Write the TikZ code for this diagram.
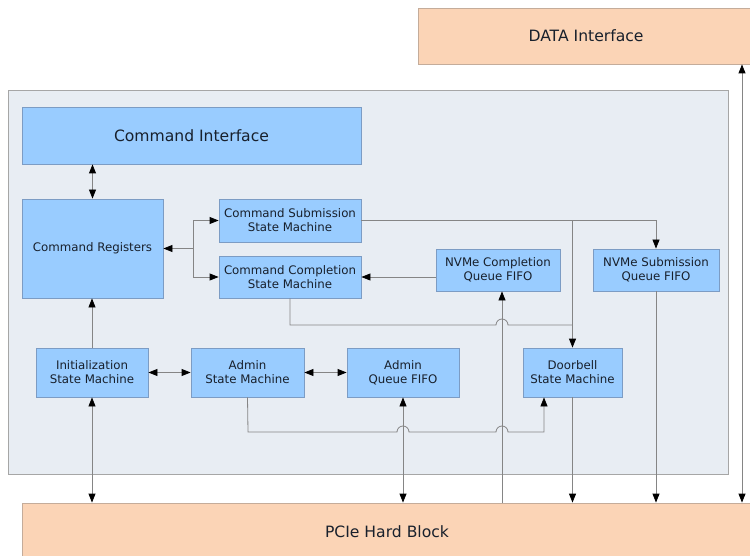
\documentclass[tikz,border=0pt]{standalone}
\usepackage{fontspec}
\setmainfont{DejaVu Sans}
\usetikzlibrary{arrows.meta}
\definecolor{bluefill}{HTML}{99CCFF}
\definecolor{blueline}{HTML}{7C9CC4}
\definecolor{contfill}{HTML}{E8EDF3}
\definecolor{contline}{HTML}{A6A6A6}
\definecolor{peachfill}{HTML}{FBD4B6}
\definecolor{peachline}{HTML}{C4AC9A}
\definecolor{wire}{HTML}{858585}
\definecolor{txt}{HTML}{18202C}
\tikzset{
  blk/.style={draw=blueline, fill=bluefill, line width=0.8pt, inner sep=0pt,
    align=center, text=txt, font=\fontsize{11.8}{14}\selectfont},
  bigblk/.style={blk, font=\fontsize{15.6}{18}\selectfont},
  peach/.style={draw=peachline, fill=peachfill, line width=0.8pt, inner sep=0pt,
    text=txt, font=\fontsize{15.6}{18}\selectfont},
  cont/.style={draw=contline, fill=contfill, line width=0.8pt, inner sep=0pt},
  wirel/.style={draw=wire, line width=0.8pt},
  tip/.tip={Triangle[length=9pt,width=7pt,color=black]},
  arr/.style={wirel, -tip},
  biarr/.style={wirel, tip-tip},
}
\begin{document}
\begin{tikzpicture}[x=1pt,y=-1pt]
\useasboundingbox (0,0) rectangle (750,556);
\clip (0,0) rectangle (750,556);
\fill[white] (0,0) rectangle (750,556);

% containers and outer blocks
\node[cont, minimum width=720pt, minimum height=384pt] (cont) at (368,282) {};
\node[peach, minimum width=336pt, minimum height=56pt] (data) at (586,36) {DATA Interface};
\node[peach, minimum width=730pt, minimum height=58pt] (pcie) at (387,532) {PCIe Hard Block};

% blue blocks
\node[bigblk, minimum width=339pt, minimum height=57pt] (cmdif) at (191.5,135.5) {Command Interface};
\node[blk, minimum width=141pt, minimum height=99pt] (cmdreg) at (92.5,248.5) {Command Registers};
\node[blk, minimum width=142pt, minimum height=43pt] (cssm) at (290,220.5) {Command Submission\\State Machine};
\node[blk, minimum width=142pt, minimum height=42pt] (ccsm) at (290,277) {Command Completion\\State Machine};
\node[blk, minimum width=124pt, minimum height=42pt] (nvcq) at (498,270) {NVMe Completion\\Queue FIFO};
\node[blk, minimum width=126pt, minimum height=42pt] (nvsq) at (656,270) {NVMe Submission\\Queue FIFO};
\node[blk, minimum width=112pt, minimum height=49pt] (init) at (92,372.5) {Initialization\\State Machine};
\node[blk, minimum width=113pt, minimum height=49pt] (adminsm) at (247.5,372.5) {Admin\\State Machine};
\node[blk, minimum width=112pt, minimum height=49pt] (adminq) at (403,372.5) {Admin\\Queue FIFO};
\node[blk, minimum width=99pt, minimum height=49pt] (door) at (572.5,372.5) {Doorbell\\State Machine};

% connectors
\draw[biarr] (cmdreg.north) -- (cmdreg.north |- cmdif.south);
\coordinate (j1) at (193,248.5);
\draw[arr] (j1) -- (cmdreg.east);
\draw[arr] (j1) |- (cssm.west);
\draw[arr] (j1) |- (ccsm.west);
\draw[arr] (cssm.east) -| (nvsq.north);
\draw[arr] (cssm.east -| door.north) -- (door.north);
\draw[arr] (ccsm.east -| nvcq.west) -- (ccsm.east);
\coordinate (c1) at (290,325);
\draw[wirel] (ccsm.south) -- (c1) -- (496,325)
  arc[start angle=180, end angle=0, radius=6pt] -- (c1 -| door.north);
\draw[arr] ([xshift=4pt]nvcq.south |- pcie.north) -- ([xshift=4pt]nvcq.south);
\draw[biarr] (init.east) -- (adminsm.west);
\draw[biarr] (adminsm.east) -- (adminq.west);
\draw[arr] (init.north) -- (init.north |- cmdreg.south);
\draw[biarr] (init.south) -- (init.south |- pcie.north);
\coordinate (c2) at (248,432);
\coordinate (c3) at (544,432);
\draw[arr] (adminsm.south) -- (c2) -- (397,432)
  arc[start angle=180, end angle=0, radius=6pt] -- (496,432)
  arc[start angle=180, end angle=0, radius=6pt] -- (c3) -- (c3 |- door.south);
\draw[biarr] (adminq.south) -- (adminq.south |- pcie.north);
\draw[arr] (door.south) -- (door.south |- pcie.north);
\draw[arr] (nvsq.south) -- (nvsq.south |- pcie.north);
\coordinate (d1) at (742,0);
\draw[biarr] (d1 |- pcie.north) -- (d1 |- data.south);
\end{tikzpicture}
\end{document}
